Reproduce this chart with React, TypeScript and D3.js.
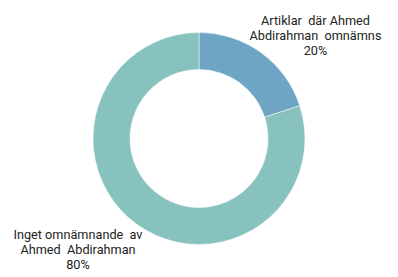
import React from "react";
import * as d3 from "d3";

const categories = ["Artiklar  där Ahmed|Abdirahman  omnämns", "Inget omnämnande  av|Ahmed  Abdirahman"];
const values = [20, 80];
const colors = ["#6ea5c5", "#87c2be"];

export default function App() {
  const width = 398;
  const height = 277;
  const cx = 199;
  const cy = 138.5;
  const outer = 106;
  const inner = 69;
  const pie = d3.pie<number>().sort(null).value((d) => d);
  const arcs = pie(values);
  const arc = d3.arc<d3.PieArcDatum<number>>().innerRadius(inner).outerRadius(outer);
  const total = d3.sum(values);
  const labelPos = [
    { x: 315.5, y: 25 },
    { x: 78, y: 239 },
  ];
  return (
    <svg width={width} height={height} style={{ position: "absolute", left: 0, top: 0 }}>
      <g transform={`translate(${cx},${cy})`}>
        {arcs.map((a, i) => (
          <path key={i} d={arc(a) || ""} fill={colors[i]} stroke="#ffffff" strokeWidth={0.5} />
        ))}
      </g>
      {categories.map((c, i) => {
        const lines = [...c.split("|"), `${Math.round((values[i] / total) * 100)}%`];
        return (
          <text
            key={i}
            x={labelPos[i].x}
            y={labelPos[i].y}
            textAnchor="middle"
            fontFamily="Roboto"
            fontSize={12.7}
            fill="#222"
            style={{ whiteSpace: "pre" }}
          >
            {lines.map((l, j) => (
              <tspan key={j} x={labelPos[i].x} dy={j === 0 ? 0 : 15}>
                {l}
              </tspan>
            ))}
          </text>
        );
      })}
    </svg>
  );
}
